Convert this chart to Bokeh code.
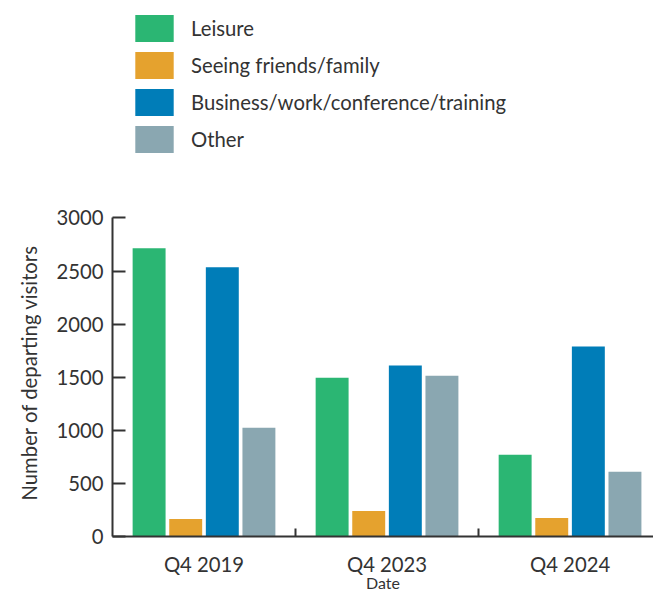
from bokeh.plotting import figure
from bokeh.models import (ColumnDataSource, FixedTicker, SingleIntervalTicker,
                          Legend, LegendItem, Title)
from bokeh.transform import dodge
from bokeh.embed import file_html
from bokeh.resources import INLINE

dates = ["Q4 2019", "Q4 2023", "Q4 2024"]
leisure = [2715, 1495, 770]
friends = [165, 240, 175]
business = [2535, 1610, 1790]
other = [1025, 1515, 610]
series_names = ["Leisure", "Seeing friends/family", "Business/work/conference/training", "Other"]
series_keys = ["leisure", "friends", "business", "other"]
colors = ["#2BB673", "#E5A22E", "#007DB8", "#8AA7B1"]
y_max = 3000

FONT = "Lato"
FS = "20.3px"
TEXT = "#333333"

xpos = [i + 0.5 for i in range(len(dates))]
source = ColumnDataSource(dict(x=xpos, leisure=leisure, friends=friends,
                               business=business, other=other))

# frame spans from top of page (room for legend) down to the x axis;
# the y axis itself is bounded to 0..3000
p = figure(width=653, height=596, x_range=(0, 2.956), y_range=(0, 5048),
           output_backend="svg", toolbar_location=None,
           min_border_left=112, min_border_right=0, min_border_top=0,
           min_border_bottom=60)
p.outline_line_color = None
p.xgrid.grid_line_color = None
p.ygrid.grid_line_color = None
p.background_fill_color = "white"
p.border_fill_color = "white"

offsets = [-0.3, -0.1, 0.1, 0.3]
items = []
for key, name, col, off in zip(series_keys, series_names, colors, offsets):
    r = p.vbar(x=dodge("x", off, range=p.x_range), top=key, width=0.18,
               source=source, fill_color=col, line_color=None)
    items.append(LegendItem(label=name, renderers=[r]))

legend = Legend(items=items, location=(18, 380), orientation="vertical",
                glyph_width=48, glyph_height=34, spacing=3, label_standoff=13,
                padding=0, margin=0, border_line_color=None,
                background_fill_alpha=0,
                label_text_font=FONT, label_text_font_size=FS,
                label_text_color=TEXT, label_height=34)
p.add_layout(legend, "center")

# y axis
ya = p.yaxis[0]
ya.bounds = (0, y_max)
ya.ticker = SingleIntervalTicker(interval=500, num_minor_ticks=0)
ya.major_label_text_font = FONT
ya.major_label_text_font_size = FS
ya.major_label_text_color = TEXT
ya.major_label_standoff = 9
ya.major_tick_in = 13
ya.major_tick_out = 0
ya.minor_tick_in = 0
ya.minor_tick_out = 0
ya.axis_line_width = 2
ya.axis_line_color = "#333333"
ya.major_tick_line_width = 2
ya.major_tick_line_color = "#333333"

ylabel = Title(text="Number of departing visitors", align="left", offset=36,
               standoff=25, text_font=FONT, text_font_size=FS,
               text_font_style="normal", text_color=TEXT)
p.add_layout(ylabel, "left")

# x axis
xa = p.xaxis[0]
xa.ticker = FixedTicker(ticks=xpos, minor_ticks=[1, 2])
xa.major_label_overrides = {x: d for x, d in zip(xpos, dates)}
xa.axis_label = "Date"
xa.axis_label_text_font = FONT
xa.axis_label_text_font_size = "16px"
xa.axis_label_text_font_style = "normal"
xa.axis_label_text_color = TEXT
xa.axis_label_standoff = -6
xa.major_label_text_font = FONT
xa.major_label_text_font_size = FS
xa.major_label_text_color = TEXT
xa.major_label_standoff = 15
xa.major_tick_in = 0
xa.major_tick_out = 0
xa.minor_tick_in = 8
xa.minor_tick_out = 0
xa.minor_tick_line_width = 2
xa.minor_tick_line_color = "#333333"
xa.axis_line_width = 2
xa.axis_line_color = "#333333"

open("out.html", "w").write(file_html(p, INLINE))
